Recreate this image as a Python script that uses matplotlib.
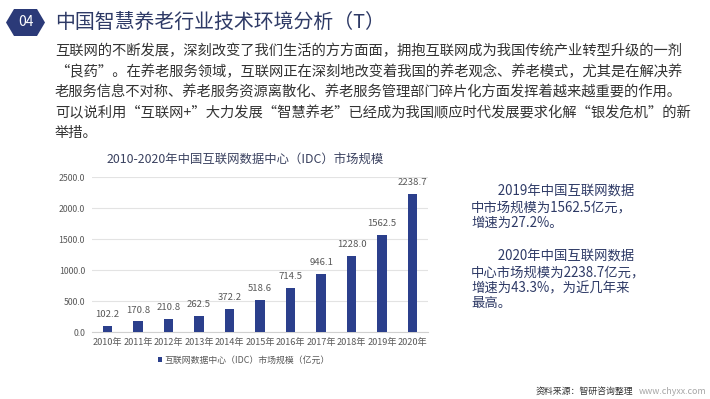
import matplotlib
matplotlib.use("Agg")
import matplotlib.pyplot as plt
from matplotlib.patches import Polygon

plt.rcParams['font.family'] = ['Noto Sans CJK SC', 'DejaVu Sans']

years = ['2010年', '2011年', '2012年', '2013年', '2014年', '2015年',
         '2016年', '2017年', '2018年', '2019年', '2020年']
values = [102.2, 170.8, 210.8, 262.5, 372.2, 518.6, 714.5, 946.1, 1228.0, 1562.5, 2238.7]
yticks = [0, 500, 1000, 1500, 2000, 2500]

page_title = '中国智慧养老行业技术环境分析（T）'
section_no = '04'
body_lines = [
    '互联网的不断发展，深刻改变了我们生活的方方面面，拥抱互联网成为我国传统产业转型升级的一剂',
    '“良药”。在养老服务领域，互联网正在深刻地改变着我国的养老观念、养老模式，尤其是在解决养',
    '老服务信息不对称、养老服务资源离散化、养老服务管理部门碎片化方面发挥着越来越重要的作用。',
    '可以说利用“互联网+”大力发展“智慧养老”已经成为我国顺应时代发展要求化解“银发危机”的新',
    '举措。',
]
chart_title = '2010-2020年中国互联网数据中心（IDC）市场规模'
legend_label = '互联网数据中心（IDC）市场规模（亿元）'
side_par1 = ['　　2019年中国互联网数据', '中市场规模为1562.5亿元，', '增速为27.2%。']
side_par2 = ['　　2020年中国互联网数据', '中心市场规模为2238.7亿元，', '增速为43.3%，为近几年来', '最高。']
source_text = '资料来源：智研咨询整理'
site_text = 'www.chyxx.com'

W, H = 710, 399
fig = plt.figure(figsize=(W / 100, H / 100), dpi=100)
fig.patch.set_facecolor('white')

def fx(x):
    return x / W

def fy(y):
    return 1 - y / H

navy = '#2B3F8C'
dark_navy = '#2E3A66'

# hexagon badge
hx = [(6, 22.5), (14, 9), (37, 9), (45, 22.5), (37, 36), (14, 36)]
fig.patches.append(Polygon([(fx(a), fy(b)) for a, b in hx], closed=True,
                           transform=fig.transFigure, facecolor='#2B3A78',
                           edgecolor='none'))
fig.text(fx(25.5), fy(22.5), section_no, color='white', fontsize=10,
         ha='center', va='center')

fig.text(fx(55), fy(22), page_title, color=dark_navy, fontsize=14.3,
         ha='left', va='center')

for i, line in enumerate(body_lines):
    fig.text(fx(55), fy(51 + i * 20.6), line, color='#333333', fontsize=10.3,
             ha='left', va='center')

# side text
for i, line in enumerate(side_par1):
    fig.text(fx(471), fy(192 + i * 15.5), line, color=dark_navy, fontsize=9.6,
             ha='left', va='center')
for i, line in enumerate(side_par2):
    fig.text(fx(471), fy(257 + i * 15.5), line, color=dark_navy, fontsize=9.6,
             ha='left', va='center')

fig.text(fx(633), fy(391), source_text, color='#333333', fontsize=6.4,
         ha='right', va='center')
fig.text(fx(639), fy(391), site_text, color='#A6A6A6', fontsize=6.4,
         ha='left', va='center')

# chart
ax = fig.add_axes([fx(92), fy(332), fx(428) - fx(92), (332 - 177.5) / H])
x = list(range(len(years)))
bars = ax.bar(x, values, width=0.31, color=navy, zorder=3, label=legend_label)
ax.set_ylim(0, 2500)
ax.set_xlim(-0.5, len(years) - 0.5)
ax.set_yticks(yticks)
ax.set_yticklabels([f'{v:.1f}' for v in yticks])
ax.set_xticks(x)
ax.set_xticklabels(years)
ax.tick_params(axis='both', length=0, colors='#595959')
ax.tick_params(axis='x', pad=4, labelsize=6.6)
ax.tick_params(axis='y', pad=5, labelsize=6.3)
ax.grid(axis='y', color='#E3E3E3', linewidth=0.8, zorder=0)
for s in ['top', 'right', 'left']:
    ax.spines[s].set_visible(False)
ax.spines['bottom'].set_color('#D0D0D0')
ax.spines['bottom'].set_linewidth(0.8)
ax.set_facecolor('none')

for xi, v in zip(x, values):
    ax.annotate(f'{v:.1f}', (xi, v), xytext=(0, 5), textcoords='offset points',
                ha='center', va='bottom', fontsize=6.9, color='#595959')

fig.text(fx(245), fy(160.5), chart_title, color='#3B4260', fontsize=8.9,
         ha='center', va='center')

fig.legend(handles=[bars], labels=[legend_label], loc='center',
           bbox_to_anchor=(fx(244), fy(360)), frameon=False,
           fontsize=6.4, handlelength=0.5, handleheight=0.5,
           handletextpad=0.3, labelcolor='#595959')

fig.savefig('out.png', dpi=100, facecolor='white')
